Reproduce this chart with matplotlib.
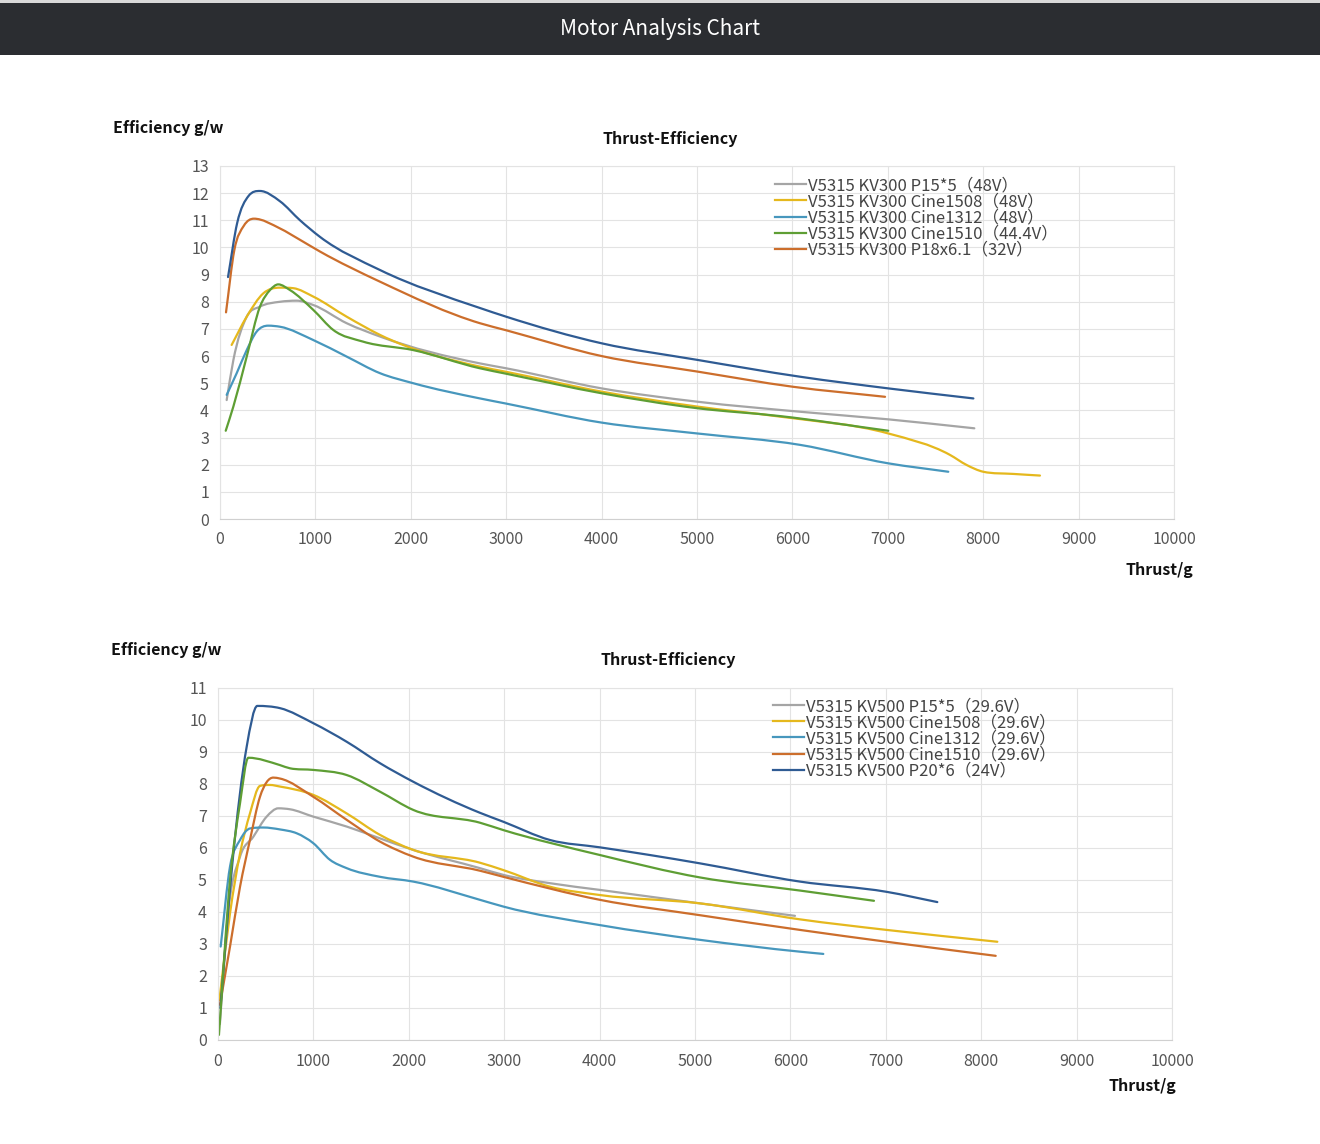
import matplotlib
matplotlib.use("Agg")
import matplotlib.pyplot as plt
from matplotlib.patches import Rectangle, PathPatch
from matplotlib.path import Path
from matplotlib.lines import Line2D

plt.rcParams['font.family'] = ['Noto Sans CJK SC', 'DejaVu Sans']

# ---------------- data: top chart (KV300) ----------------
top_labels = ["V5315 KV300 P15*5（48V）", "V5315 KV300 Cine1508（48V）",
              "V5315 KV300 Cine1312（48V）", "V5315 KV300 Cine1510（44.4V）",
              "V5315 KV300 P18x6.1（32V）", None]

t_gray_x = [70, 140, 280, 419, 629, 804, 978, 1328, 1677, 2725, 3000, 4001, 5003, 6080, 7005, 7907]
t_gray_y = [4.38, 5.85, 7.45, 7.82, 8.0, 8.04, 7.88, 7.21, 6.72, 5.73, 5.55, 4.81, 4.32, 3.95, 3.67, 3.34]

t_yel_x = [122, 280, 454, 629, 769, 978, 1328, 1677, 2725, 3000, 4001, 5003, 5870, 7005, 7652, 7826, 8001, 8316, 8595]
t_yel_y = [6.41, 7.45, 8.31, 8.52, 8.5, 8.19, 7.45, 6.78, 5.61, 5.42, 4.69, 4.14, 3.77, 3.15, 2.36, 1.99, 1.74, 1.66, 1.6]

t_lb_x = [70, 175, 280, 384, 506, 629, 978, 1328, 1677, 2026, 2725, 3000, 4001, 5003, 6080, 7005, 7634]
t_lb_y = [4.57, 5.37, 6.22, 6.9, 7.12, 7.08, 6.59, 5.98, 5.37, 5.0, 4.44, 4.25, 3.55, 3.15, 2.73, 2.05, 1.74]

t_grn_x = [60, 140, 280, 419, 524, 611, 734, 978, 1188, 1502, 2026, 2725, 3000, 4001, 5003, 5870, 7005]
t_grn_y = [3.25, 4.14, 5.98, 7.82, 8.43, 8.64, 8.43, 7.7, 6.96, 6.53, 6.22, 5.55, 5.35, 4.63, 4.08, 3.79, 3.25]

t_org_x = [63, 150, 250, 356, 629, 839, 1048, 1677, 2725, 3000, 4001, 5003, 6006, 6971]
t_org_y = [7.61, 9.9, 10.8, 11.06, 10.7, 10.28, 9.85, 8.74, 7.21, 6.95, 6.0, 5.43, 4.87, 4.5]

t_dblue_x = [84, 180, 300, 419, 629, 839, 1048, 1677, 2725, 3000, 4001, 5003, 6080, 7005, 7897]
t_dblue_y = [8.91, 10.9, 11.9, 12.08, 11.7, 11.0, 10.39, 9.17, 7.77, 7.45, 6.47, 5.86, 5.24, 4.81, 4.44]

# ---------------- data: bottom chart (KV500) ----------------
bot_labels = ["V5315 KV500 P15*5（29.6V）", "V5315 KV500 Cine1508（29.6V）",
              "V5315 KV500 Cine1312（29.6V）", "V5315 KV500 Cine1510（29.6V）",
              "V5315 KV500 P20*6（24V）", None]

b_gray_x = [20, 100, 231, 370, 510, 632, 755, 999, 1349, 1698, 2047, 2746, 2991, 3480, 4004, 5052, 6048]
b_gray_y = [0.5, 3.8, 5.73, 6.35, 6.98, 7.24, 7.21, 6.98, 6.67, 6.3, 5.94, 5.37, 5.16, 4.9, 4.69, 4.27, 3.88]

b_yel_x = [15, 126, 231, 335, 440, 545, 650, 999, 1349, 1698, 2047, 2746, 2991, 3480, 4004, 5052, 6101, 7009, 8169]
b_yel_y = [1.25, 3.96, 5.83, 7.08, 7.94, 7.97, 7.92, 7.66, 7.08, 6.41, 5.94, 5.54, 5.31, 4.79, 4.53, 4.27, 3.77, 3.44, 3.07]

b_lb_x = [28, 126, 231, 335, 475, 650, 825, 999, 1174, 1349, 1698, 2047, 2746, 2991, 4004, 5052, 6101, 6345]
b_lb_y = [2.92, 5.42, 6.25, 6.61, 6.64, 6.58, 6.46, 6.15, 5.63, 5.37, 5.1, 4.95, 4.38, 4.17, 3.59, 3.13, 2.76, 2.69]

b_org_x = [20, 126, 231, 335, 440, 580, 650, 999, 1349, 1698, 2047, 2746, 2991, 4004, 5052, 6101, 7009, 8152]
b_org_y = [1.1, 2.92, 4.79, 6.25, 7.6, 8.2, 8.17, 7.6, 6.88, 6.2, 5.73, 5.29, 5.1, 4.38, 3.9, 3.44, 3.07, 2.63]

b_dblue_x = [25, 150, 301, 412, 650, 999, 1349, 1698, 2047, 2746, 2991, 3480, 4004, 4528, 5052, 6101, 7009, 7540]
b_dblue_y = [1.0, 5.5, 9.17, 10.44, 10.37, 9.9, 9.32, 8.65, 8.07, 7.1, 6.82, 6.25, 6.02, 5.78, 5.52, 4.95, 4.63, 4.31]

b_grn_x = [10, 126, 231, 318, 650, 755, 999, 1349, 1698, 2047, 2746, 2991, 4004, 5052, 6101, 6876]
b_grn_y = [0.16, 5.0, 7.4, 8.82, 8.59, 8.49, 8.44, 8.28, 7.76, 7.19, 6.79, 6.56, 5.78, 5.08, 4.67, 4.35]

x_ticks = [0, 1000, 2000, 3000, 4000, 5000, 6000, 7000, 8000, 9000, 10000]
top_yticks = list(range(0, 14))
bot_yticks = list(range(0, 12))

C_GRAY = "#a5a5a5"
C_YEL = "#e5b81d"
C_LB = "#4797bd"
C_GRN = "#5e9e34"
C_ORG = "#cc6e2c"
C_DB = "#2f5b93"

W, H = 1320, 1144
fig = plt.figure(figsize=(W / 100, H / 100), dpi=100)
fig.patch.set_facecolor("white")

# header
fig.add_artist(Rectangle((0, 1 - 3 / H), 1, 3 / H, transform=fig.transFigure,
                         facecolor="#d9d9d9", edgecolor="none"))
fig.add_artist(Rectangle((0, 1 - 55 / H), 1, 52 / H, transform=fig.transFigure,
                         facecolor="#2b2d31", edgecolor="none"))
fig.text(0.5, 1 - 29 / H, "Motor Analysis Chart", color="white", fontsize=15,
         ha="center", va="center")


def smooth_path(xs, ys):
    """Smoothed line through the read points, as cubic Bezier segments (Hermite in x)."""
    n = len(xs)
    m = []
    for i in range(n):
        if i == 0:
            s = (ys[1] - ys[0]) / (xs[1] - xs[0])
        elif i == n - 1:
            s = (ys[-1] - ys[-2]) / (xs[-1] - xs[-2])
        else:
            d0 = (ys[i] - ys[i - 1]) / (xs[i] - xs[i - 1])
            d1 = (ys[i + 1] - ys[i]) / (xs[i + 1] - xs[i])
            if d0 * d1 <= 0:
                s = 0.0 if abs(d0) > 1e-4 and abs(d1) > 1e-4 else (d0 + d1) / 2
            else:
                h0 = xs[i] - xs[i - 1]
                h1 = xs[i + 1] - xs[i]
                s = (d0 * h1 + d1 * h0) / (h0 + h1)
                lim = 3 * min(abs(d0), abs(d1))
                if abs(s) > lim:
                    s = lim if s > 0 else -lim
        m.append(s)
    verts = [(xs[0], ys[0])]
    codes = [Path.MOVETO]
    for i in range(n - 1):
        dx = xs[i + 1] - xs[i]
        c1 = (xs[i] + dx / 3, ys[i] + m[i] * dx / 3)
        c2 = (xs[i + 1] - dx / 3, ys[i + 1] - m[i + 1] * dx / 3)
        verts += [c1, c2, (xs[i + 1], ys[i + 1])]
        codes += [Path.CURVE4] * 3
    return Path(verts, codes)


def make_axes(rect, yticks, series, labels, legend_anchor, ylab_pos, title_pos, xlab_pos):
    ax = fig.add_axes(rect)
    handles, labs = [], []
    for (xs, ys, c), lab in zip(series, labels):
        ax.add_patch(PathPatch(smooth_path(xs, ys), facecolor="none", edgecolor=c,
                               lw=1.6, capstyle="round", joinstyle="round"))
        if lab:
            handles.append(Line2D([], [], color=c, lw=1.6))
            labs.append(lab)
    ax.set_xlim(0, 10000)
    ax.set_ylim(yticks[0], yticks[-1])
    ax.set_xticks(x_ticks)
    ax.set_yticks(yticks)
    ax.grid(True, color="#e3e3e3", lw=0.8)
    ax.set_axisbelow(True)
    for s in ax.spines.values():
        s.set_color("#e3e3e3")
        s.set_linewidth(0.8)
    ax.spines["bottom"].set_color("#d0d0d0")
    ax.tick_params(length=0, labelsize=11.5, colors="#555555", pad=9)
    ax.tick_params(axis="y", pad=8)
    leg = ax.legend(handles, labs, loc="upper left", bbox_to_anchor=legend_anchor,
                    frameon=False, fontsize=12, handlelength=1.85, handletextpad=0.15,
                    labelspacing=-0.05, borderpad=0, borderaxespad=0)
    for t in leg.get_texts():
        t.set_color("#444444")
    fig.text(ylab_pos[0] / W, 1 - ylab_pos[1] / H, "Efficiency g/w", fontsize=11.5,
             fontweight="bold", ha="left", va="center", color="#111111")
    fig.text(title_pos[0] / W, 1 - title_pos[1] / H, "Thrust-Efficiency", fontsize=11.5,
             fontweight="bold", ha="center", va="center", color="#111111")
    fig.text(xlab_pos[0] / W, 1 - xlab_pos[1] / H, "Thrust/g", fontsize=11.5,
             fontweight="bold", ha="right", va="center", color="#111111")
    return ax


top_series = [(t_gray_x, t_gray_y, C_GRAY), (t_yel_x, t_yel_y, C_YEL),
              (t_lb_x, t_lb_y, C_LB), (t_grn_x, t_grn_y, C_GRN),
              (t_org_x, t_org_y, C_ORG), (t_dblue_x, t_dblue_y, C_DB)]
bot_series = [(b_gray_x, b_gray_y, C_GRAY), (b_yel_x, b_yel_y, C_YEL),
              (b_lb_x, b_lb_y, C_LB), (b_org_x, b_org_y, C_ORG),
              (b_dblue_x, b_dblue_y, C_DB), (b_grn_x, b_grn_y, C_GRN)]

make_axes([220 / W, 1 - 519 / H, 954 / W, 353 / H], top_yticks, top_series, top_labels,
          ((775 - 220) / 954, 1 - (177 - 166) / 353), (113, 128), (670, 139), (1193, 570))
make_axes([218 / W, 1 - 1040 / H, 954 / W, 352 / H], bot_yticks, bot_series, bot_labels,
          ((773 - 218) / 954, 1 - (698 - 688) / 352), (111, 650), (668, 660), (1176, 1086))

fig.savefig("out.png", dpi=100, facecolor="white")
